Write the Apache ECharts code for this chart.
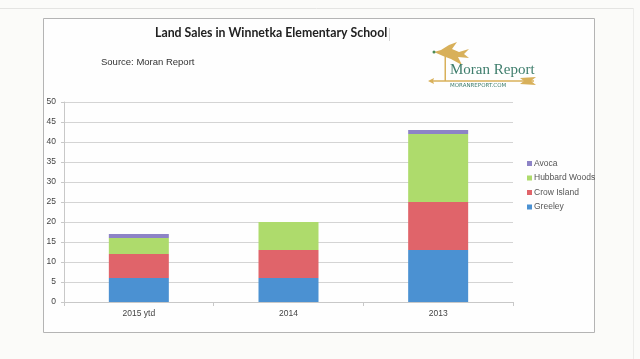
<!DOCTYPE html>
<html>
<head>
<meta charset="utf-8">
<script src="https://cdn.jsdelivr.net/npm/echarts@6/dist/echarts.min.js"></script>
<style>
html,body{margin:0;padding:0;background:#fbfbf9;}
#c{width:640px;height:359px;}
</style>
</head>
<body>
<div id="c"></div>
<script>
const categories = ['2015 ytd', '2014', '2013'];
const greeley = [6, 6, 13];
const crowIsland = [6, 7, 12];
const hubbardWoods = [4, 7, 17];
const avoca = [1, 0, 1];
const seriesNames = ['Greeley', 'Crow Island', 'Hubbard Woods', 'Avoca'];
const legendOrder = ['Avoca', 'Hubbard Woods', 'Crow Island', 'Greeley'];
const colors = ['#4b91d2', '#e0646a', '#aedb6c', '#8d83c6'];

const chart = echarts.init(document.getElementById('c'));
const values = [greeley, crowIsland, hubbardWoods, avoca];
const gold = '#d8b05a';
const teal = '#3e7d6c';

chart.setOption({
  animation: false,
  backgroundColor: '#fbfbf9',
  graphic: [
    { type: 'line', shape: { x1: 0, y1: 8.5, x2: 633, y2: 8.5 }, style: { stroke: '#e4e4e2', lineWidth: 1 }, z: -10 },
    { type: 'line', shape: { x1: 633.5, y1: 8, x2: 633.5, y2: 359 }, style: { stroke: '#ececea', lineWidth: 1 }, z: -10 },
    { type: 'rect', shape: { x: 43.5, y: 18.5, width: 551, height: 314 }, style: { fill: '#fefefe', stroke: '#b4b4b4', lineWidth: 1 }, z: -9 },
    { type: 'text', left: 155, top: 27, style: { text: 'Land Sales in Winnetka Elementary School', font: 'bold 12.3px Lato', fill: '#222' }, z: 5 },
    { type: 'rect', shape: { x: 389, y: 28, width: 1, height: 13 }, style: { fill: '#d4d4d4' }, z: 5 },
    { type: 'text', left: 101, top: 57, style: { text: 'Source: Moran Report', font: '9.5px "Liberation Sans"', fill: '#333' }, z: 5 },
    // logo
    { type: 'polygon', shape: { points: [[434,52],[441,50],[449,45],[457,42],[452,49],[459,52],[469,49],[464,54],[469,58],[458,57],[462,65],[451,59],[443,56]] }, style: { fill: gold }, z: 5 },
    { type: 'circle', shape: { cx: 434, cy: 52, r: 1.5 }, style: { fill: '#4a8a55' }, z: 6 },
    { type: 'rect', shape: { x: 444.5, y: 55, width: 1.5, height: 26 }, style: { fill: gold }, z: 5 },
    { type: 'line', shape: { x1: 430, y1: 81, x2: 534, y2: 81 }, style: { stroke: gold, lineWidth: 1.5 }, z: 5 },
    { type: 'polygon', shape: { points: [[428,81],[434,78],[433,81],[434,84]] }, style: { fill: gold }, z: 5 },
    { type: 'polygon', shape: { points: [[520,78],[536,77],[531,81],[536,85],[520,84],[524,81]] }, style: { fill: gold }, z: 5 },
    { type: 'text', left: 450, top: 63, style: { text: 'Moran Report', font: '15px "Liberation Serif"', fill: teal }, z: 5 },
    { type: 'text', left: 450, top: 83, style: { text: 'MORANREPORT.COM', font: '5.5px "DejaVu Sans"', fill: teal }, z: 5 }
  ],
  legend: {
    orient: 'vertical',
    left: 522,
    top: 154,
    itemWidth: 5,
    itemHeight: 5,
    itemGap: 5.5,
    icon: 'rect',
    data: legendOrder,
    textStyle: { fontSize: 8.5, color: '#555', fontFamily: 'Liberation Sans', padding: [0, 0, 0, -3] }
  },
  grid: { left: 64, top: 102, right: 127, bottom: 57, containLabel: false },
  xAxis: {
    type: 'category',
    data: categories,
    axisLine: { lineStyle: { color: '#c8c8c8' } },
    axisTick: { show: true, length: 4, lineStyle: { color: '#c8c8c8' } },
    axisLabel: { fontSize: 8.5, color: '#444', fontFamily: 'Liberation Sans', margin: 7 }
  },
  yAxis: {
    type: 'value',
    min: 0,
    max: 50,
    interval: 5,
    axisLine: { show: true, lineStyle: { color: '#c8c8c8' } },
    axisTick: { show: true, length: 3, lineStyle: { color: '#c8c8c8' } },
    splitLine: { lineStyle: { color: '#d4d4d4' } },
    axisLabel: { fontSize: 8.5, color: '#444', fontFamily: 'Liberation Sans', margin: 8 }
  },
  series: seriesNames.map((n, i) => ({
    name: n,
    type: 'bar',
    stack: 'total',
    barWidth: 60,
    data: values[i],
    itemStyle: { color: colors[i] }
  }))
});
</script>
</body>
</html>
